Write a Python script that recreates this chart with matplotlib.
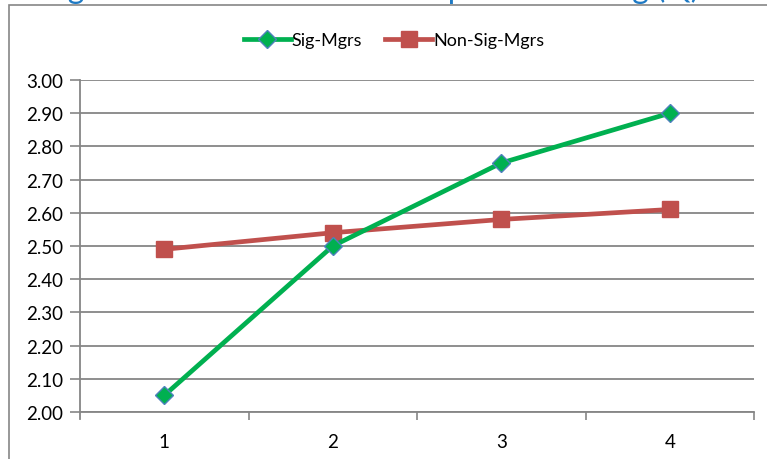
import matplotlib
matplotlib.use("Agg")
import matplotlib.pyplot as plt
from matplotlib.patches import Rectangle

categories = [1, 2, 3, 4]
sig_mgrs = [2.05, 2.50, 2.75, 2.90]
non_sig_mgrs = [2.49, 2.54, 2.58, 2.61]
y_ticks = [2.00, 2.10, 2.20, 2.30, 2.40, 2.50, 2.60, 2.70, 2.80, 2.90, 3.00]
title_text = "Significance Level over Time per Mentoring (Q)"

plt.rcParams['font.family'] = ['Lato', 'DejaVu Sans']

W, H = 767, 460
fig = plt.figure(figsize=(W / 100, H / 100), dpi=100)
fig.patch.set_facecolor('white')

# outer chart frame (extends beyond picture at right/bottom)
fig.patches.append(Rectangle((9 / W, -0.05), 1.0, (H - 6) / H + 0.05,
                             transform=fig.transFigure, fill=False,
                             edgecolor='#868686', linewidth=1.2))

# title mostly cut off at top, as in the reference
fig.text(43 / W, 1 + 2 / H, title_text, color='#1F7AC4', fontsize=22.9,
         ha='left', va='baseline')

ax = fig.add_axes([80 / W, 47 / H, 674 / W, 332 / H])
grey = '#868686'
ax.set_xlim(0.5, 4.5)
ax.set_ylim(2.0, 3.0)
ax.set_yticks(y_ticks)
ax.set_yticklabels([f"{v:.2f}" for v in y_ticks])
ax.set_xticks(categories)
ax.set_xticklabels([str(c) for c in categories])
ax.set_xticks([1.5, 2.5, 3.5, 4.5], minor=True)
ax.tick_params(axis='x', which='major', length=0, pad=15, labelsize=13.5)
ax.tick_params(axis='x', which='minor', length=6, color=grey, width=1.2)
ax.tick_params(axis='y', length=7, color=grey, width=1.2, labelsize=13.5, pad=5)
ax.yaxis.grid(True, color=grey, linewidth=1.3)
ax.set_axisbelow(True)
for s in ['top', 'right']:
    ax.spines[s].set_visible(False)
for s in ['left', 'bottom']:
    ax.spines[s].set_color(grey)
    ax.spines[s].set_linewidth(1.3)
ax.spines['left'].set_bounds(1.98, 3.0)

ax.plot(categories, sig_mgrs, color='#00B050', linewidth=3.4, marker='D',
        markersize=9.5, markerfacecolor='#00B050', markeredgecolor='#4F81BD',
        markeredgewidth=1.0, label='Sig-Mgrs', zorder=4)
ax.plot(categories, non_sig_mgrs, color='#C0504D', linewidth=3.4, marker='s',
        markersize=11, markerfacecolor='#C0504D', markeredgecolor='#C0504D',
        label='Non-Sig-Mgrs', zorder=3)

leg = fig.legend(loc='center', bbox_to_anchor=(394 / W, 1 - 41 / H), ncol=2,
                 frameon=False, fontsize=13, handlelength=2.6,
                 handletextpad=0.05, columnspacing=1.3)

fig.savefig('out.png', dpi=100)
